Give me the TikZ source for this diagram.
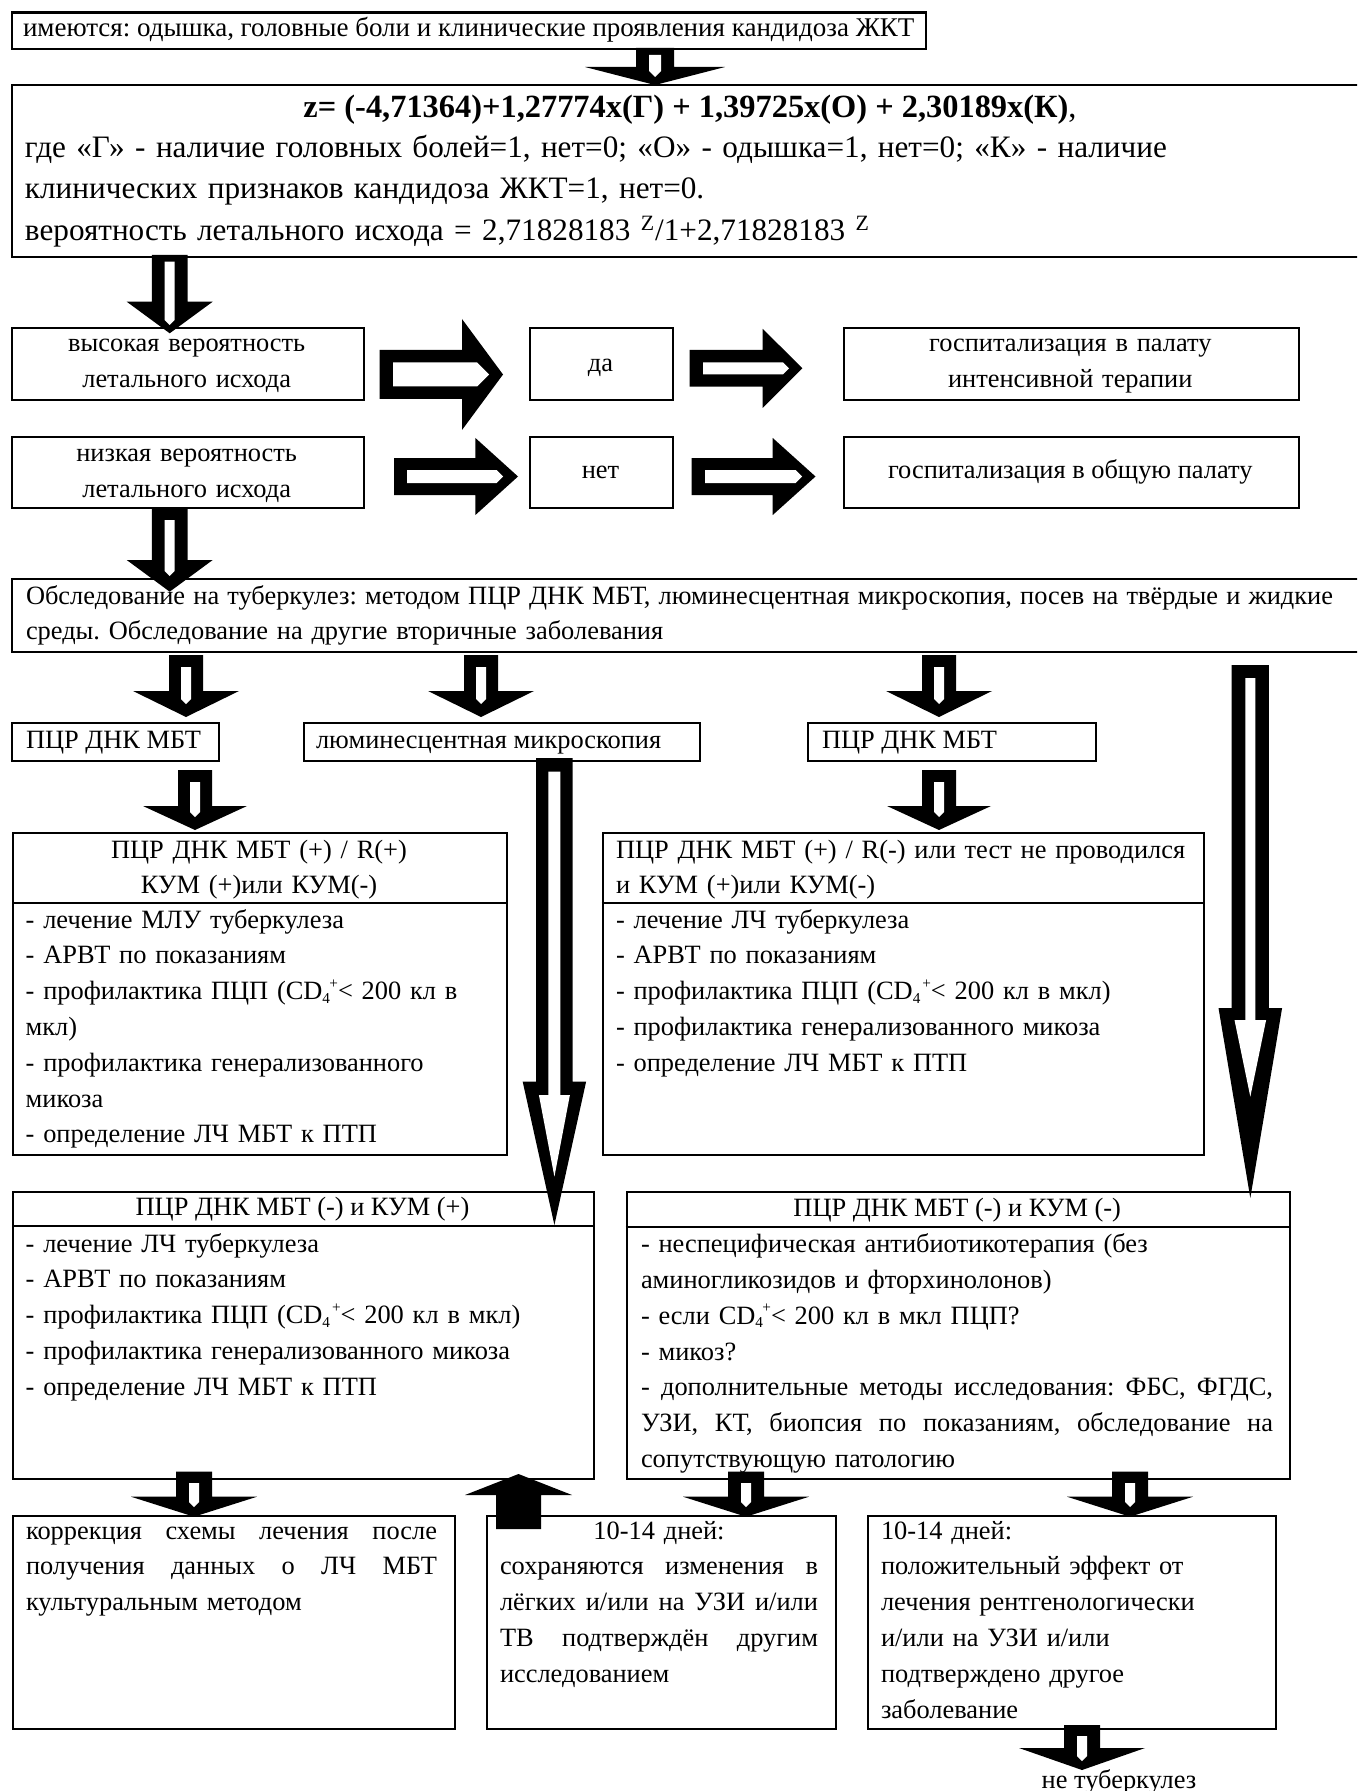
\documentclass[tikz,border=0pt]{standalone}
\usepackage{fontspec}
\setmainfont{Liberation Serif}
\frenchspacing
\newcommand\fs{\fontsize{13.2pt}{17.9pt}\selectfont}
\newcommand\fbig{\fontsize{15.6pt}{20.75pt}\selectfont}
% justified single line of given width
\newcommand\jline[2]{\leavevmode\hbox to #1{\spaceskip=0.25em plus 1fil minus 0.1em\xspaceskip=\spaceskip #2}}
% CD4+ with small sub/superscript
\newcommand\cdq[1]{CD\raisebox{-0.3ex}{\fontsize{7.6pt}{8pt}\selectfont 4}\kern#1\raisebox{0.95ex}{\fontsize{7.6pt}{8pt}\selectfont +}}
% box: name, x1, y1, x2, y2 (pixel units)
\newcommand\bx[5]{\node[box, anchor=north west, minimum width={(#4-#2)*0.5pt}, minimum height={(#5-#3)*0.5pt}] (#1) at (#2,#3) {};}
% striped block arrow pointing down: x, ytop, ybase, ytip, shaft half, head half, inner half, inner top, inner end
\newcommand\blkdn[9]{%
 \fill[black] ({#1-#5},#2) -- ({#1+#5},#2) -- ({#1+#5},#3) -- ({#1+#6},#3) -- (#1,#4) -- ({#1-#6},#3) -- ({#1-#5},#3) -- cycle;
 \fill[white] ({#1-#7},#8) -- ({#1+#7},#8) -- ({#1+#7},{#9-#7}) -- (#1,#9) -- ({#1-#7},{#9-#7}) -- cycle;}
% striped block arrow pointing right: y, xstart, xbase, xtip, shaft half, head half, inner half, inner start, inner end
\newcommand\blkrt[9]{%
 \fill[black] (#2,{#1-#5}) -- (#3,{#1-#5}) -- (#3,{#1-#6}) -- (#4,#1) -- (#3,{#1+#6}) -- (#3,{#1+#5}) -- (#2,{#1+#5}) -- cycle;
 \fill[white] (#8,{#1-#7}) -- ({#9-#7},{#1-#7}) -- (#9,#1) -- ({#9-#7},{#1+#7}) -- (#8,{#1+#7}) -- cycle;}
\tikzset{
 box/.style={draw=black, fill=white, line width=1.1pt, inner sep=0pt},
 txt/.style={inner sep=0pt, outer sep=0pt, font=\fs},
 divider/.style={draw=black, line width=1.1pt}
}
\begin{document}
\begin{tikzpicture}[x=0.5pt,y=-0.5pt]
\useasboundingbox (0,0) rectangle (1357,1791);
\clip (0,0) rectangle (1357,1791);
\fill[white] (0,0) rectangle (1357,1791);
% ---------- boxes ----------
\bx{top}{10.5}{11.5}{925}{48}
\bx{big}{10.5}{84}{1368}{256}
\bx{vys}{11}{327}{362.5}{399}
\bx{da}{529}{327}{672}{399}
\bx{gospit}{842.5}{327}{1298}{399}
\bx{niz}{11}{436}{362.5}{507}
\bx{net}{529}{436}{672}{507}
\bx{gospo}{842.5}{436}{1298}{507}
\bx{obs}{10.5}{578}{1368}{651}
\bx{pcrl}{10.5}{722}{218}{760}
\bx{lum}{303}{722}{699}{760}
\bx{pcrr}{806.6}{722}{1095}{760}
\bx{kl}{12}{832}{506}{1153.5}
\bx{kr}{601.5}{832}{1203}{1154}
\bx{kml}{12}{1191}{593}{1478}
\bx{kmr}{625.5}{1191}{1289}{1478}
\bx{ba}{12}{1515}{454}{1728}
\bx{bb}{486}{1515}{835}{1728}
\bx{bc}{867}{1515}{1275}{1728}
\draw[divider] (kl.west |- 0,902.7) -- (kl.east |- 0,902.7);
\draw[divider] (kr.west |- 0,902.7) -- (kr.east |- 0,902.7);
\draw[divider] (kml.west |- 0,1226) -- (kml.east |- 0,1226);
\draw[divider] (kmr.west |- 0,1226.7) -- (kmr.east |- 0,1226.7);
% ---------- texts ----------
\node[txt, font=\fontsize{13.5pt}{17.9pt}\selectfont, anchor=base west] (t0) at (23,37) {имеются: одышка, головные боли и клинические проявления кандидоза ЖКТ};
\node[txt, font=\fontsize{16.2pt}{20.75pt}\selectfont, anchor=base] (zl) at (690,118) {\textbf{z= (-4,71364)+1,27774x(Г) + 1,39725x(О) + 2,30189x(К)},};
\node[txt, font=\fbig, anchor=north west, text width=650pt, align=left] (bigt) at (25,128.45) {\strut где «Г» - наличие головных болей=1, нет=0; «О» - одышка=1, нет=0; «К» - наличие\\
клинических признаков кандидоза ЖКТ=1, нет=0.\\
вероятность летального исхода = 2,71828183 \textsuperscript{Z}/1+2,71828183 \textsuperscript{Z}};
\node[txt, anchor=north, text width=170pt, align=center] (tvys) at (186.7,326.94) {\strut высокая вероятность\\летального исхода};
\node[txt, anchor=base] (tda) at (600.5,371.3) {да};
\node[txt, anchor=north, text width=220pt, align=center] (tgospit) at (1070.25,326.94) {\strut госпитализация в палату\\интенсивной терапии};
\node[txt, anchor=north, text width=170pt, align=center] (tniz) at (186.7,436.54) {\strut низкая вероятность\\летального исхода};
\node[txt, anchor=base] (tnet) at (600.5,478.3) {нет};
\node[txt, anchor=base] (tgospo) at (1070.25,478.3) {госпитализация в общую палату};
\node[txt, anchor=north west, text width=670pt, align=left] (tobs) at (26,578.94) {\strut\jline{653.5pt}{Обследование на туберкулез: методом ПЦР ДНК МБТ, люминесцентная микроскопия, посев на твёрдые и жидкие}\\
среды. Обследование на другие вторичные заболевания};
\node[txt, anchor=base west] (tpcrl) at (26,748) {ПЦР ДНК МБТ};
\node[txt, anchor=base west] (tlum) at (316,748) {люминесцентная микроскопия};
\node[txt, anchor=base west] (tpcrr) at (822,748) {ПЦР ДНК МБТ};
% upper left box
\node[txt, anchor=north, text width=240pt, align=center] (hkl) at (259,832.94) {\strut ПЦР ДНК МБТ (+) / R(+)\\КУМ (+)или КУМ(-)};
\node[txt, anchor=north west, text width=400pt, align=left] (bkl) at (25.7,902.94) {\strut - лечение МЛУ туберкулеза\\
- АРВТ по показаниям\\
- профилактика ПЦП (\cdq{-0.3pt}< 200 кл в\\
мкл)\\
- профилактика генерализованного\\
микоза\\
- определение ЛЧ МБТ к ПТП};
% upper right box
\node[txt, anchor=north west, text width=400pt, align=left] (hkr) at (616,832.94) {\strut ПЦР ДНК МБТ (+) / R(-) или тест не проводился\\и КУМ (+)или КУМ(-)};
\node[txt, anchor=north west, text width=400pt, align=left] (bkr) at (616,902.94) {\strut - лечение ЛЧ туберкулеза\\
- АРВТ по показаниям\\
- профилактика ПЦП (\cdq{1pt}< 200 кл в мкл)\\
- профилактика генерализованного микоза\\
- определение ЛЧ МБТ к ПТП};
% lower left box
\node[txt, anchor=base] (hkml) at (302.5,1215) {ПЦР ДНК МБТ (-) и КУМ (+)};
\node[txt, anchor=north west, text width=400pt, align=left] (bkml) at (25.7,1226.94) {\strut - лечение ЛЧ туберкулеза\\
- АРВТ по показаниям\\
- профилактика ПЦП (\cdq{1pt}< 200 кл в мкл)\\
- профилактика генерализованного микоза\\
- определение ЛЧ МБТ к ПТП};
% lower right box
\node[txt, anchor=base] (hkmr) at (957.25,1216) {ПЦР ДНК МБТ (-) и КУМ (-)};
\node[txt, anchor=north west, text width=400pt, align=left] (bkmr) at (641,1227.64) {\strut - неспецифическая антибиотикотерапия (без\\
аминогликозидов и фторхинолонов)\\
- если \cdq{-0.3pt}< 200 кл в мкл ПЦП?\\
- микоз?\\
\jline{316pt}{- дополнительные методы исследования: ФБС, ФГДС,}\\
\jline{316pt}{УЗИ, КТ, биопсия по показаниям, обследование на}\\
сопутствующую патологию};
% bottom boxes
\node[txt, anchor=north west, text width=300pt, align=left] (tba) at (26,1513.94) {\strut\jline{205.5pt}{коррекция схемы лечения после}\\
\jline{205.5pt}{получения данных о ЛЧ МБТ}\\
культуральным методом};
\node[txt, anchor=north west, text width=300pt, align=left] (tbb) at (500,1513.94) {\strut\makebox[159pt][c]{10-14 дней:}\\
\jline{159pt}{сохраняются изменения в}\\
\jline{159pt}{лёгких и/или на УЗИ и/или}\\
\jline{159pt}{ТВ подтверждён другим}\\
исследованием};
\node[txt, anchor=north west, text width=300pt, align=left] (tbc) at (881,1513.94) {\strut 10-14 дней:\\
положительный эффект от\\
лечения рентгенологически\\
и/или на УЗИ и/или\\
подтверждено другое\\
заболевание};
\node[txt, anchor=base] (ntb) at (1119,1788) {не туберкулез};
% ---------- block arrows ----------
\blkdn{655}{48}{67}{85}{19}{70}{6}{55}{77}
\blkdn{169.7}{255}{301.7}{333.3}{17.8}{43}{5}{261.7}{325}
\blkdn{169.7}{507}{560}{591.7}{17.8}{43}{5}{520}{576}
\blkrt{374.5}{379.5}{462}{503}{24.5}{55.5}{12}{393}{489}
\blkrt{368.3}{689.7}{762.7}{802.4}{18.3}{39.5}{6}{703}{789}
\blkrt{476.5}{394}{475.4}{518}{18.5}{38.5}{6.5}{407}{503}
\blkrt{476.5}{691.5}{772.6}{815.5}{18.5}{38.6}{6.5}{705}{802}
\blkdn{186}{655}{691}{717}{17}{53}{5}{667}{704}
\blkdn{481}{655}{691}{717}{17}{53}{5}{667}{704}
\blkdn{939}{655}{691}{717}{17}{53}{5}{667}{704}
\blkdn{195}{770}{806}{830}{17}{52}{5}{782}{817}
\blkdn{939}{770}{806}{830}{17}{52}{5}{782}{817}
% long outlined arrows
\fill[black] ({554.4-18.3},758) -- ({554.4+18.3},758) -- ({554.4+18.3},1081.7) -- ({554.4+31.7},1081.7) -- (554.4,1225) -- ({554.4-31.7},1081.7) -- ({554.4-18.3},1081.7) -- cycle;
\fill[white] ({554.4-6},771.7) -- ({554.4+6},771.7) -- ({554.4+6},1095) -- ({554.4+15.5},1095) -- (554.4,1176.7) -- ({554.4-15.5},1095) -- ({554.4-6},1095) -- cycle;
\fill[black] ({1250.3-18.6},665) -- ({1250.3+18.6},665) -- ({1250.3+18.6},1008) -- ({1250.3+31.8},1008) -- (1250.3,1198) -- ({1250.3-31.8},1008) -- ({1250.3-18.6},1008) -- cycle;
\fill[white] ({1250.3-5},678) -- ({1250.3+5},678) -- ({1250.3+5},1020) -- ({1250.3+15.8},1020) -- (1250.3,1096.7) -- ({1250.3-15.8},1020) -- ({1250.3-5},1020) -- cycle;
% bottom arrows
\blkdn{194}{1471.7}{1496.7}{1516.7}{18}{63}{5}{1483}{1507}
\blkdn{746}{1471.7}{1496.7}{1516.7}{18}{63}{5}{1483}{1507}
\blkdn{1130}{1471.7}{1496.7}{1516.7}{18}{63}{5}{1483}{1507}
\blkdn{1082}{1725}{1748}{1770}{18}{63}{5}{1736}{1761}
\fill[black] (518.5,1474) -- (572,1495) -- (541,1495) -- (541,1529) -- (496,1529) -- (496,1495) -- (465,1495) -- cycle;
\end{tikzpicture}
\end{document}
